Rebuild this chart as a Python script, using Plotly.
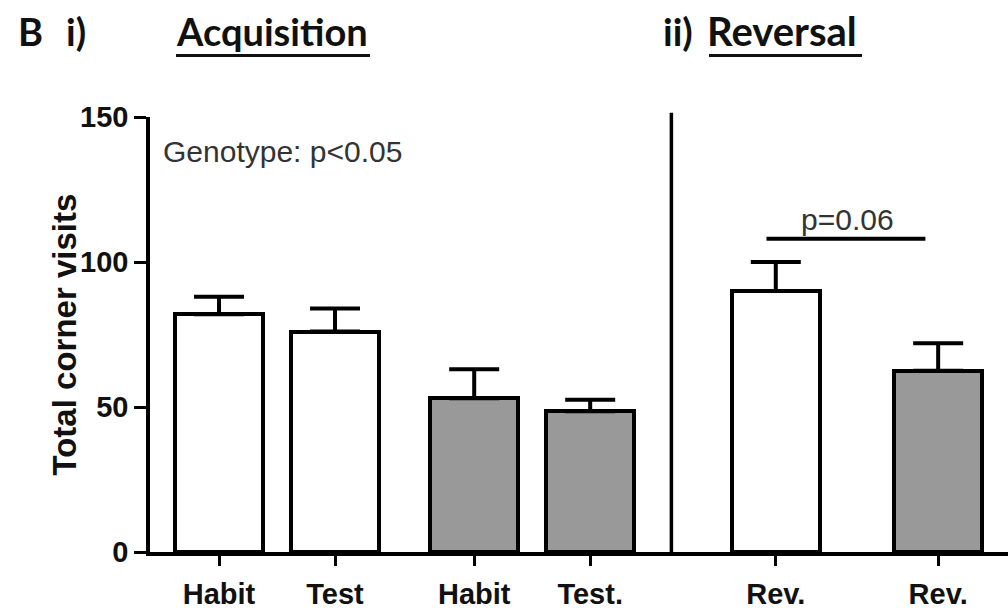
import plotly.graph_objects as go

# Group labels and mean corner visits with upper SEM
labels = ["Habit", "Test", "Habit", "Test.", "Rev.", "Rev."]
means = [82, 76, 53, 48.5, 90, 62.5]
sems = [6, 8, 10, 4, 10, 9.5]
fills = ["white", "white", "#999999", "#999999", "white", "#999999"]

# Bar slots along the x axis (gap before the reversal panel)
slots = [0, 1, 2.2, 3.2, 4.8, 6.2]

# Significance bar over the reversal pair
sig_value = 108
sig_text = "p=0.06"
genotype_text = "Genotype: p<0.05"

TICK_FONT = dict(family="Liberation Sans, Arial, sans-serif", size=29, color="#111111", weight="bold")
HEAD_FONT = dict(family="Lato, Carlito, sans-serif", size=38, color="#111111")
NOTE_FONT = dict(family="Liberation Sans, Arial, sans-serif", size=30, color="#333333")

fig = go.Figure()

fig.add_trace(go.Bar(
    x=slots,
    y=means,
    width=0.76,
    marker=dict(color=fills, line=dict(color="black", width=4)),
    error_y=dict(type="data", array=sems, arrayminus=[0] * len(sems), symmetric=False,
                 color="black", thickness=4, width=25),
    showlegend=False,
))

# Divider between the acquisition and reversal panels
fig.add_shape(type="line", xref="x", yref="paper", x0=3.9, x1=3.9, y0=0, y1=1.01,
              line=dict(color="black", width=3.5))

# Significance bar
fig.add_trace(go.Scatter(
    x=[4.72, 6.09], y=[sig_value, sig_value], mode="lines",
    line=dict(color="black", width=4),
    showlegend=False, hoverinfo="skip",
))

fig.add_annotation(x=5.42, y=sig_value, xref="x", yref="y", text=sig_text,
                   showarrow=False, yanchor="bottom", yshift=1, font=NOTE_FONT)
fig.add_annotation(x=-0.5, y=138, xref="x", yref="y", text=genotype_text,
                   showarrow=False, xanchor="left", yanchor="middle", font=NOTE_FONT)


def head(text, left_px, centre_py, size=38):
    fig.add_annotation(xref="paper", yref="paper", x=0, y=1,
                       xshift=left_px - 150, yshift=117 - centre_py,
                       xanchor="left", yanchor="middle", text=text,
                       showarrow=False, font=dict(HEAD_FONT, size=size))


head("<b>B</b>", 16, 31)
head("<b>i)</b>", 64, 31)
head("<b>Acquisition</b>", 174, 31)
head("<b>ii)</b>", 661, 31)
head("<b>Reversal</b>", 705, 31, size=40)

# Underlines for the panel headings
for x0, x1 in [(176, 370), (709, 862)]:
    fig.add_shape(type="line", xref="paper", yref="paper",
                  x0=(x0 - 150) / 858, x1=(x1 - 150) / 858,
                  y0=1 + (117 - 54) / 445, y1=1 + (117 - 54) / 445,
                  line=dict(color="#111111", width=3))

# Y axis title
fig.add_annotation(xref="paper", yref="paper", x=0, y=0.5, xshift=-86,
                   text="<b>Total corner visits</b>", textangle=-90,
                   showarrow=False, xanchor="center", yanchor="middle",
                   font=dict(family="Liberation Sans, Arial, sans-serif", size=33, color="#111111"))

fig.update_xaxes(
    range=[-0.595, 6.802],
    tickvals=slots, ticktext=labels,
    showline=True, linecolor="black", linewidth=3.5,
    ticks="outside", ticklen=10, tickwidth=3, tickcolor="black",
    tickfont=TICK_FONT, showgrid=False, zeroline=False,
    ticklabelstandoff=3,
)
fig.update_yaxes(
    range=[0, 150],
    tickvals=[0, 50, 100, 150],
    showline=True, linecolor="black", linewidth=3.5,
    ticks="outside", ticklen=12, tickwidth=3, tickcolor="black",
    tickfont=TICK_FONT, showgrid=False, zeroline=False,
    ticklabelstandoff=0,
)

fig.update_layout(
    width=1008, height=610,
    margin=dict(l=150, r=0, t=117, b=48),
    plot_bgcolor="white", paper_bgcolor="white",
    bargap=0,
)

fig.write_html("out.html")
